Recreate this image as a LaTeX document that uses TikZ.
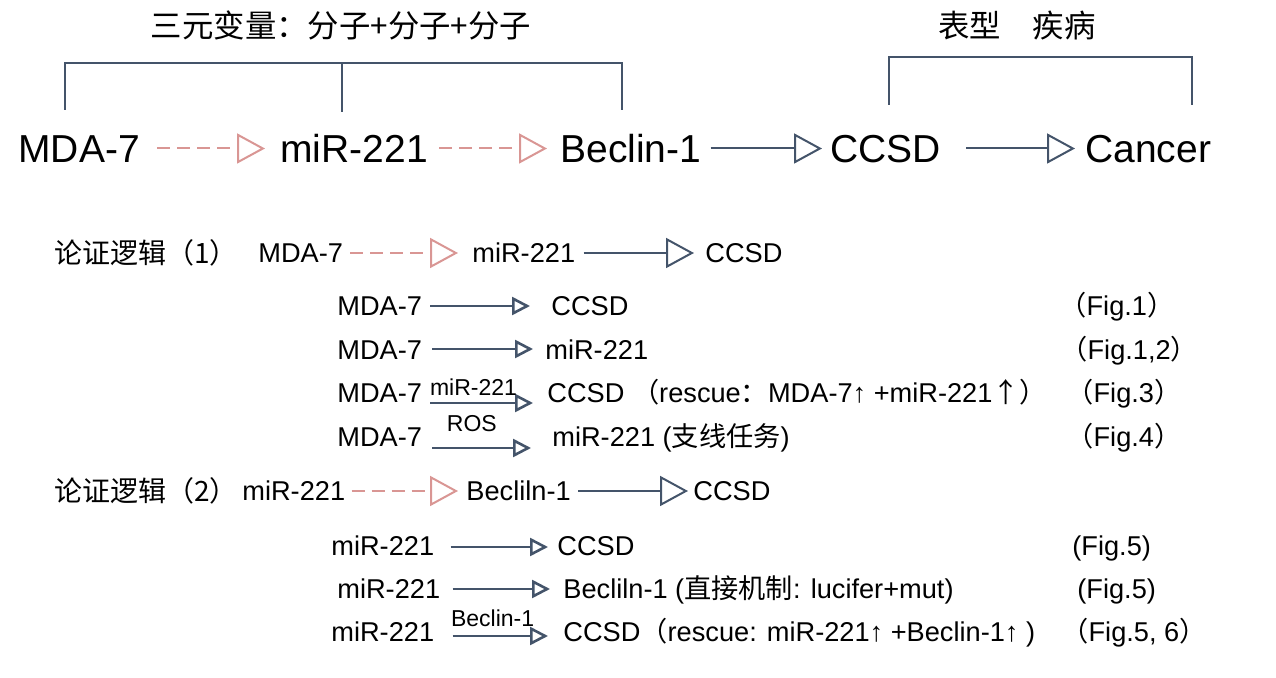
\documentclass[tikz,border=0pt]{standalone}
\usepackage{fontspec}
\setmainfont{Liberation Sans}
\newfontfamily\cjk{Noto Sans CJK SC}
\usetikzlibrary{arrows.meta,calc}
\definecolor{pinkc}{RGB}{217,150,148}
\definecolor{darkc}{RGB}{68,84,106}
\tikzset{
  txt/.style={inner sep=0pt, text depth=0pt, anchor=west, text=black},
  big/.style={txt, text height=13.96pt, font=\fontsize{19.5}{22}\selectfont},
  mid/.style={txt, text height=9.74pt, font=\fontsize{13.6}{16}\selectfont},
  sml/.style={inner sep=0pt, text height=8.23pt, text depth=0pt, font=\fontsize{11.5}{13}\selectfont},
  cjkt/.style={txt, text height=10.64pt, font=\fontsize{14}{16}\selectfont\cjk},
  ttl/.style={inner sep=0pt, text height=11.9pt, text depth=0pt, font=\fontsize{15.7}{18}\selectfont\cjk},
  pinkarr/.style={draw=pinkc, line width=1pt, dash pattern=on 6.5pt off 3.5pt,
    -{Triangle[open, length=14pt, width=15pt]}},
  bigarr/.style={draw=darkc, line width=1pt, -{Triangle[open, length=14pt, width=15pt]}},
  smlarr/.style={draw=darkc, line width=1.3pt, -{Triangle[open, length=9pt, width=9pt]}},
  brk/.style={draw=darkc, line width=1pt},
}
\begin{document}
\begin{tikzpicture}[x=0.5pt,y=-0.5pt]
\useasboundingbox (0,0) rectangle (1276,678);
% titles
\node[ttl] (title1) at (341,26) {三元变量：分子+分子+分子};
\node[ttl] (title2) at (1017,26) {表型\hspace{1em}疾病};
% brackets
\draw[brk] (65,110) -- (65,63) -- (622,63) -- (622,110);
\draw[brk] (342,63) -- (342,112);
\draw[brk] (889,105) -- (889,57) -- (1192,57) -- (1192,105);
% top row
\node[big] (t1) at (18,148.5) {MDA-7};
\node[big] (t2) at (280,148.5) {miR-221};
\node[big] (t3) at (560,148.5) {Beclin-1};
\node[big] (t4) at (830,148.5) {CCSD};
\node[big] (t5) at (1085,148.5) {Cancer};
\draw[pinkarr] ($(t1.east)+(17,0)$) -- ($(t2.west)+(-15,0)$);
\draw[pinkarr] ($(t2.east)+(11,0)$) -- ($(t3.west)+(-13,0)$);
\draw[bigarr] ($(t3.east)+(9,0)$) -- ($(t4.west)+(-8,0)$);
\draw[bigarr] ($(t4.east)+(25,0)$) -- ($(t5.west)+(-10,0)$);
% section 1
\node[cjkt] (s1) at (54,253) {论证逻辑（1）};
\node[mid] (a1) at (258,253) {MDA-7};
\node[mid] (a2) at (472,253) {miR-221};
\node[mid] (a3) at (705,253) {CCSD};
\draw[pinkarr] ($(a1.east)+(7,0)$) -- ($(a2.west)+(-14,0)$);
\draw[bigarr] ($(a2.east)+(8,0)$) -- ($(a3.west)+(-11,0)$);
% row 1
\node[mid] (r1a) at (337,306) {MDA-7};
\node[mid] (r1b) at (551,306) {CCSD};
\node[mid] (r1f) at (1059,306) {{\cjk （}Fig.1{\cjk ）}};
\draw[smlarr] ($(r1a.east)+(8,0)$) -- ($(r1b.west)+(-21,0)$);
% row 2
\node[mid] (r2a) at (337,350) {MDA-7};
\node[mid] (r2b) at (545,350) {miR-221};
\node[mid] (r2f) at (1060,350) {{\cjk （}Fig.1,2{\cjk ）}};
\draw[smlarr] ($(r2a.east)+(10,-1)$) -- ($(r2b.west)+(-12,-1)$);
% row 3
\node[mid] (r3a) at (337,393) {MDA-7};
\node[mid] (r3b) at (547,393) {CCSD {\cjk （}rescue{\cjk ：}MDA-7↑ +miR-221{\cjk ↑）}};
\node[mid] (r3f) at (1066,393) {{\cjk （}Fig.3{\cjk ）}};
\draw[smlarr] ($(r3a.east)+(8,10)$) -- ($(r3b.west)+(-14,10)$) node[sml, pos=0.42, above=3pt] (l3) {miR-221};
% row 4
\node[mid] (r4a) at (337,437) {MDA-7};
\node[mid] (r4b) at (552,437) {miR-221 ({\cjk 支线任务})};
\node[mid] (r4f) at (1066,437) {{\cjk （}Fig.4{\cjk ）}};
\draw[smlarr] ($(r4a.east)+(10,11)$) -- ($(r4b.west)+(-21,11)$) node[sml, pos=0.4, above=7.5pt] (l4) {ROS};
% section 2
\node[cjkt] (s2) at (54,491) {论证逻辑（2）};
\node[mid] (b1) at (242,491) {miR-221};
\node[mid] (b2) at (466,491) {Becliln-1};
\node[mid] (b3) at (693,491) {CCSD};
\draw[pinkarr] ($(b1.east)+(6,0)$) -- ($(b2.west)+(-8,0)$);
\draw[bigarr] ($(b2.east)+(7,0)$) -- ($(b3.west)+(-5,0)$);
% row 5
\node[mid] (q1a) at (331,546) {miR-221};
\node[mid] (q1b) at (557,546) {CCSD};
\node[mid] (q1f) at (1072,546) {(Fig.5)};
\draw[smlarr] ($(q1a.east)+(16,1)$) -- ($(q1b.west)+(-9,1)$);
% row 6
\node[mid] (q2a) at (337,589) {miR-221};
\node[mid] (q2b) at (563,589) {Becliln-1 ({\cjk 直接机制}: lucifer+mut)};
\node[mid] (q2f) at (1077,589) {(Fig.5)};
\draw[smlarr] ($(q2a.east)+(12,0)$) -- ($(q2b.west)+(-13,0)$);
% row 7
\node[mid] (q3a) at (331,632) {miR-221};
\node[mid] (q3b) at (563,632) {CCSD{\cjk （}rescue: miR-221↑ +Beclin-1↑ )};
\node[mid] (q3f) at (1061,632) {{\cjk （}Fig.5, 6{\cjk ）}};
\draw[smlarr] ($(q3a.east)+(18,4)$) -- ($(q3b.west)+(-15,4)$) node[sml, pos=0.42, above=4pt] (l7) {Beclin-1};
\end{tikzpicture}
\end{document}
